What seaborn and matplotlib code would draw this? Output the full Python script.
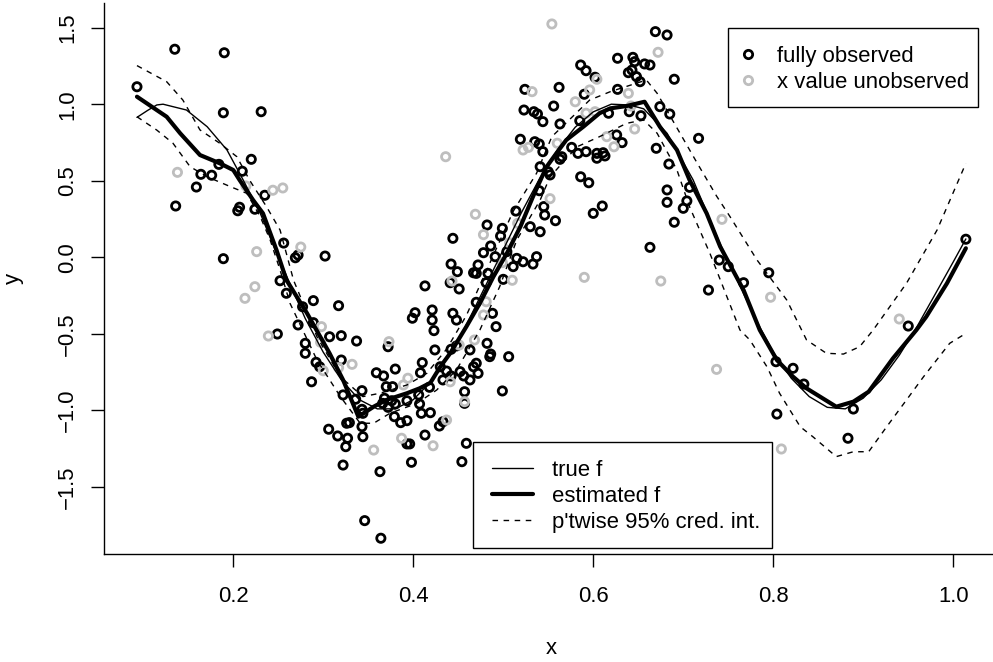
import matplotlib
matplotlib.use("Agg")
import matplotlib.pyplot as plt
from matplotlib.lines import Line2D
from matplotlib.patches import Rectangle
import pandas as pd
import seaborn as sns

# points with both x and y observed
black_x = [0.093, 0.135, 0.190, 0.189, 0.231, 0.220, 0.184, 0.164, 0.176, 0.210,
           0.159, 0.136, 0.235, 0.205, 0.207, 0.224, 0.256, 0.269, 0.272, 0.302,
           0.189, 0.252, 0.259, 0.289, 0.277, 0.272, 0.289, 0.317, 0.249, 0.280,
           0.280, 0.292, 0.296, 0.287, 0.306, 0.307, 0.320, 0.337, 0.320, 0.372,
           0.413, 0.451, 0.402, 0.399, 0.421, 0.421, 0.423, 0.444, 0.448, 0.470,
           0.424, 0.442, 0.448, 0.463, 0.410, 0.408, 0.380, 0.359, 0.367, 0.370,
           0.377, 0.343, 0.322, 0.336, 0.343, 0.344, 0.368, 0.376, 0.380, 0.366,
           0.372, 0.393, 0.406, 0.407, 0.409, 0.419, 0.418, 0.430, 0.437, 0.433,
           0.442, 0.452, 0.456, 0.467, 0.470, 0.457, 0.457, 0.379, 0.386, 0.393,
           0.326, 0.329, 0.343, 0.344, 0.316, 0.327, 0.325, 0.429, 0.433, 0.413,
           0.393, 0.396, 0.459, 0.454, 0.398, 0.322, 0.363, 0.346, 0.364, 0.523,
           0.534, 0.538, 0.544, 0.556, 0.563, 0.519, 0.535, 0.540, 0.544, 0.541,
           0.550, 0.552, 0.540, 0.545, 0.546, 0.558, 0.514, 0.482, 0.499, 0.530,
           0.541, 0.444, 0.497, 0.486, 0.478, 0.491, 0.504, 0.515, 0.522, 0.537,
           0.533, 0.511, 0.442, 0.449, 0.472, 0.467, 0.470, 0.483, 0.481, 0.500,
           0.441, 0.488, 0.492, 0.482, 0.486, 0.485, 0.506, 0.472, 0.463, 0.499,
           0.669, 0.682, 0.627, 0.644, 0.646, 0.657, 0.663, 0.643, 0.639, 0.648,
           0.652, 0.690, 0.586, 0.592, 0.602, 0.562, 0.524, 0.590, 0.627, 0.617,
           0.640, 0.653, 0.674, 0.685, 0.585, 0.717, 0.576, 0.583, 0.592, 0.565,
           0.563, 0.604, 0.604, 0.613, 0.611, 0.626, 0.632, 0.670, 0.684, 0.586,
           0.595, 0.707, 0.610, 0.600, 0.682, 0.682, 0.704, 0.700, 0.690, 0.663,
           0.740, 0.750, 0.767, 0.795, 0.728, 0.950, 1.014, 0.803, 0.822, 0.834,
           0.804, 0.889, 0.883]
black_y = [1.114, 1.359, 1.336, 0.944, 0.951, 0.640, 0.607, 0.542, 0.536, 0.562,
           0.459, 0.335, 0.405, 0.304, 0.327, 0.314, 0.093, -0.003, 0.015, 0.008,
           -0.009, -0.153, -0.235, -0.283, -0.323, -0.442, -0.427, -0.316, -0.501, -0.562,
           -0.627, -0.686, -0.715, -0.813, -1.123, -0.519, -0.512, -0.547, -0.671, -0.584,
           -0.187, -0.207, -0.362, -0.398, -0.344, -0.410, -0.479, -0.366, -0.410, -0.294,
           -0.605, -0.601, -0.579, -0.605, -0.688, -0.754, -0.730, -0.754, -0.775, -0.845,
           -0.845, -0.871, -0.899, -0.927, -0.993, -1.019, -0.921, -0.937, -0.958, -0.954,
           -0.980, -0.937, -0.899, -0.958, -1.019, -1.015, -0.849, -0.715, -0.743, -0.801,
           -0.775, -0.747, -0.775, -0.715, -0.692, -0.878, -0.954, -1.041, -1.080, -1.067,
           -1.084, -1.080, -1.106, -1.172, -1.167, -1.182, -1.237, -1.102, -1.074, -1.161,
           -1.219, -1.219, -1.215, -1.335, -1.339, -1.357, -1.400, -1.720, -1.835, 0.962,
           0.951, 0.936, 0.886, 0.988, 0.871, 0.771, 0.755, 0.740, 0.690, 0.592,
           0.559, 0.538, 0.435, 0.331, 0.276, 0.239, 0.302, 0.211, 0.189, 0.200,
           0.167, 0.124, 0.139, 0.074, 0.030, 0.004, 0.037, -0.007, -0.029, 0.004,
           -0.044, -0.061, -0.044, -0.094, -0.050, -0.101, -0.105, -0.105, -0.166, -0.144,
           -0.166, -0.366, -0.453, -0.562, -0.632, -0.649, -0.649, -0.758, -0.801, -0.873,
           1.474, 1.452, 1.300, 1.306, 1.278, 1.263, 1.256, 1.223, 1.206, 1.180,
           1.147, 1.163, 1.256, 1.219, 1.176, 1.110, 1.097, 1.065, 1.097, 0.941,
           0.951, 0.925, 0.984, 0.936, 0.892, 0.777, 0.718, 0.679, 0.690, 0.657,
           0.640, 0.679, 0.647, 0.662, 0.683, 0.799, 0.749, 0.712, 0.609, 0.526,
           0.487, 0.457, 0.335, 0.287, 0.440, 0.359, 0.368, 0.320, 0.229, 0.065,
           -0.018, -0.061, -0.166, -0.101, -0.214, -0.449, 0.118, -0.682, -0.725, -0.828,
           -1.024, -0.991, -1.182]

# points whose x value was not observed
gray_x = [0.138, 0.214, 0.244, 0.255, 0.275, 0.226, 0.224, 0.213, 0.298, 0.239,
          0.297, 0.300, 0.317, 0.332, 0.373, 0.443, 0.451, 0.468, 0.394, 0.389,
          0.441, 0.457, 0.437, 0.387, 0.422, 0.356, 0.436, 0.522, 0.528, 0.560,
          0.552, 0.469, 0.516, 0.478, 0.507, 0.499, 0.510, 0.481, 0.478, 0.590,
          0.675, 0.554, 0.672, 0.604, 0.532, 0.596, 0.580, 0.639, 0.592, 0.602,
          0.642, 0.646, 0.615, 0.623, 0.743, 0.797, 0.940, 0.737, 0.809]
gray_y = [0.555, 0.466, 0.438, 0.453, 0.067, 0.037, -0.192, -0.268, -0.453, -0.514,
          -0.555, -0.741, -0.721, -0.699, -0.551, -0.155, -0.573, -0.540, -0.790, -0.834,
          -0.813, -0.943, -1.063, -1.182, -1.231, -1.259, 0.657, 0.701, 0.718, 0.745,
          0.383, 0.281, 0.222, 0.148, 0.095, -0.035, -0.150, -0.290, -0.377, -0.131,
          -0.155, 1.524, 1.339, 1.163, 1.082, 1.093, 1.016, 1.071, 0.941, 0.951,
          0.988, 0.838, 0.788, 0.722, 0.248, -0.261, -0.403, -0.732, -1.252]

true_x = [0.093, 0.105, 0.115, 0.122, 0.148, 0.171, 0.193, 0.211, 0.230, 0.248,
          0.265, 0.280, 0.300, 0.320, 0.340, 0.360, 0.380, 0.400, 0.420, 0.440,
          0.460, 0.480, 0.500, 0.520, 0.540, 0.560, 0.580, 0.600, 0.620, 0.640,
          0.656, 0.682, 0.711, 0.740, 0.760, 0.780, 0.800, 0.820, 0.840, 0.860,
          0.880, 0.900, 0.920, 0.940, 0.960, 0.980, 1.000, 1.014]
true_y = [0.914, 0.960, 0.995, 1.000, 0.962, 0.853, 0.701, 0.505, 0.287, 0.030,
          -0.200, -0.400, -0.620, -0.800, -0.930, -0.990, -0.990, -0.930, -0.810, -0.640,
          -0.430, -0.190, 0.050, 0.290, 0.510, 0.700, 0.850, 0.950, 1.000, 0.995,
          0.970, 0.810, 0.505, 0.100, -0.150, -0.400, -0.620, -0.790, -0.910, -0.980,
          -0.990, -0.920, -0.800, -0.640, -0.450, -0.240, -0.030, 0.120]

est_x = [0.093, 0.126, 0.141, 0.163, 0.185, 0.200, 0.207, 0.222, 0.233, 0.248,
         0.259, 0.274, 0.282, 0.307, 0.322, 0.339, 0.356, 0.370, 0.393, 0.407,
         0.419, 0.430, 0.441, 0.459, 0.474, 0.489, 0.504, 0.519, 0.533, 0.548,
         0.559, 0.570, 0.589, 0.607, 0.619, 0.637, 0.657, 0.674, 0.693, 0.707,
         0.726, 0.741, 0.767, 0.785, 0.804, 0.822, 0.837, 0.870, 0.889, 0.906,
         0.933, 0.959, 0.970, 0.993, 1.014]
est_y = [1.049, 0.918, 0.810, 0.668, 0.614, 0.570, 0.505, 0.374, 0.287, 0.048,
         -0.148, -0.290, -0.366, -0.627, -0.801, -1.041, -0.976, -0.932, -0.888, -0.856,
         -0.820, -0.715, -0.627, -0.453, -0.300, -0.127, 0.026, 0.200, 0.396, 0.590,
         0.679, 0.766, 0.853, 0.941, 0.973, 0.988, 1.016, 0.853, 0.701, 0.505,
         0.287, 0.070, -0.214, -0.475, -0.671, -0.780, -0.856, -0.976, -0.943, -0.878,
         -0.660, -0.475, -0.388, -0.170, 0.059]

upper_x = [0.093, 0.126, 0.144, 0.163, 0.185, 0.204, 0.218, 0.237, 0.252, 0.267,
           0.293, 0.319, 0.344, 0.363, 0.393, 0.415, 0.437, 0.459, 0.485, 0.511,
           0.537, 0.554, 0.596, 0.619, 0.659, 0.671, 0.689, 0.715, 0.737, 0.752,
           0.782, 0.815, 0.837, 0.859, 0.878, 0.896, 0.911, 0.948, 0.982, 1.014]
upper_y = [1.252, 1.147, 1.027, 0.832, 0.745, 0.657, 0.505, 0.330, 0.178, -0.150,
           -0.519, -0.780, -0.910, -0.888, -0.834, -0.758, -0.600, -0.380, -0.039, 0.300,
           0.549, 0.788, 1.027, 1.082, 1.158, 1.071, 0.886, 0.620, 0.400, 0.265,
           -0.018, -0.279, -0.540, -0.627, -0.632, -0.584, -0.475, -0.170, 0.178, 0.614]

lower_x = [0.093, 0.115, 0.133, 0.152, 0.171, 0.197, 0.215, 0.230, 0.241, 0.252,
           0.263, 0.293, 0.319, 0.341, 0.356, 0.374, 0.404, 0.426, 0.448, 0.474,
           0.496, 0.515, 0.541, 0.552, 0.582, 0.607, 0.637, 0.656, 0.671, 0.693,
           0.707, 0.730, 0.763, 0.774, 0.793, 0.807, 0.830, 0.844, 0.870, 0.889,
           0.906, 0.926, 0.948, 0.967, 0.996, 1.014]
lower_y = [0.918, 0.831, 0.745, 0.592, 0.526, 0.461, 0.418, 0.265, 0.113, -0.083,
           -0.300, -0.671, -0.910, -1.084, -1.084, -1.019, -0.954, -0.867, -0.736, -0.475,
           -0.192, 0.113, 0.374, 0.526, 0.722, 0.788, 0.875, 0.897, 0.810, 0.570,
           0.330, 0.020, -0.475, -0.540, -0.715, -0.888, -1.107, -1.172, -1.302, -1.270,
           -1.270, -1.107, -0.932, -0.780, -0.562, -0.497]

x_ticks = [0.2, 0.4, 0.6, 0.8, 1.0]
x_tick_labels = ["0.2", "0.4", "0.6", "0.8", "1.0"]
y_ticks = [-1.5, -1.0, -0.5, 0.0, 0.5, 1.0, 1.5]
y_tick_labels = ["\u22121.5", "\u22121.0", "\u22120.5", "0.0", "0.5", "1.0", "1.5"]

GRAY = "#BEBEBE"

sns.set_style("white", {"axes.edgecolor": "black", "text.color": "black",
                        "axes.labelcolor": "black", "xtick.color": "black",
                        "ytick.color": "black"})
plt.rcParams["font.family"] = ["Liberation Sans", "DejaVu Sans"]

dpi = 133
fig = plt.figure(figsize=(993 / dpi, 662 / dpi), dpi=dpi)
ax = fig.add_axes([104.3 / 993, 108 / 662, 894.5 / 993, 551 / 662])

pts_black = pd.DataFrame({"x": black_x, "y": black_y})
pts_gray = pd.DataFrame({"x": gray_x, "y": gray_y})

sns.scatterplot(data=pts_black, x="x", y="y", ax=ax, marker="o", s=20,
                facecolors="none", edgecolor="black", linewidth=1.5, zorder=2)
sns.scatterplot(data=pts_gray, x="x", y="y", ax=ax, marker="o", s=20,
                facecolors="none", edgecolor=GRAY, linewidth=1.5, zorder=2)

sns.lineplot(x=true_x, y=true_y, ax=ax, color="black", linewidth=0.75,
             estimator=None, sort=False, zorder=3)
sns.lineplot(x=est_x, y=est_y, ax=ax, color="black", linewidth=2.25,
             estimator=None, sort=False, zorder=3)
for bx, by in [(upper_x, upper_y), (lower_x, lower_y)]:
    sns.lineplot(x=bx, y=by, ax=ax, color="black", linewidth=0.75,
                 linestyle=(0, (4, 4)), estimator=None, sort=False, zorder=3)

ax.set_xlim(0.0567, 1.0506)
ax.set_ylim(-1.938, 1.661)
ax.set_xticks(x_ticks)
ax.set_xticklabels(x_tick_labels)
ax.set_yticks(y_ticks)
ax.set_yticklabels(y_tick_labels)
ax.tick_params(axis="both", direction="out", length=7.2, width=0.75,
               labelsize=12, color="black", left=True, bottom=True)
ax.tick_params(axis="x", pad=10.3)
ax.tick_params(axis="y", pad=7, labelrotation=90)
for lab in ax.get_yticklabels():
    lab.set_va("center")
sns.despine(ax=ax)
for side in ["left", "bottom"]:
    ax.spines[side].set_linewidth(0.75)
    ax.spines[side].set_color("black")

ax.set_xlabel("x", fontsize=12)
ax.set_ylabel("y", fontsize=12)
ax.xaxis.set_label_coords(0.5, -0.182)
ax.xaxis.label.set_va("baseline")
ax.yaxis.set_label_coords(-0.0958, 0.5)
ax.yaxis.label.set_va("baseline")

# legend frames (R style boxes)
for x0, y0, w, h in [(0.6976, 0.8118, 0.2795, 0.1434), (0.4122, 0.0109, 0.3343, 0.1924)]:
    ax.add_patch(Rectangle((x0, y0), w, h, transform=ax.transAxes, facecolor="white",
                           edgecolor="black", linewidth=0.75, zorder=4))

pt_handles = [
    Line2D([], [], marker="o", linestyle="none", markerfacecolor="none",
           markeredgecolor="black", markersize=4.5, markeredgewidth=1.5),
    Line2D([], [], marker="o", linestyle="none", markerfacecolor="none",
           markeredgecolor=GRAY, markersize=4.5, markeredgewidth=1.5),
]
leg1 = ax.legend(pt_handles, ["fully observed", "x value unobserved"],
                 loc="upper left", bbox_to_anchor=(0.710, 0.9218), borderaxespad=0,
                 borderpad=0, frameon=False, fontsize=12, handlelength=0.8,
                 handletextpad=0.905, labelspacing=0.23)
leg1.set_zorder(5)
ax.add_artist(leg1)

line_handles = [
    Line2D([], [], color="black", linewidth=0.75),
    Line2D([], [], color="black", linewidth=2.25),
    Line2D([], [], color="black", linewidth=0.75, linestyle=(0, (4, 4))),
]
leg2 = ax.legend(line_handles, ["true f", "estimated f", "p'twise 95% cred. int."],
                 loc="upper left", bbox_to_anchor=(0.4331, 0.1710), borderaxespad=0,
                 borderpad=0, frameon=False, fontsize=12, handlelength=1.87,
                 handletextpad=0.87, labelspacing=0.23)
leg2.set_zorder(5)

fig.savefig("out.png", dpi=dpi)
